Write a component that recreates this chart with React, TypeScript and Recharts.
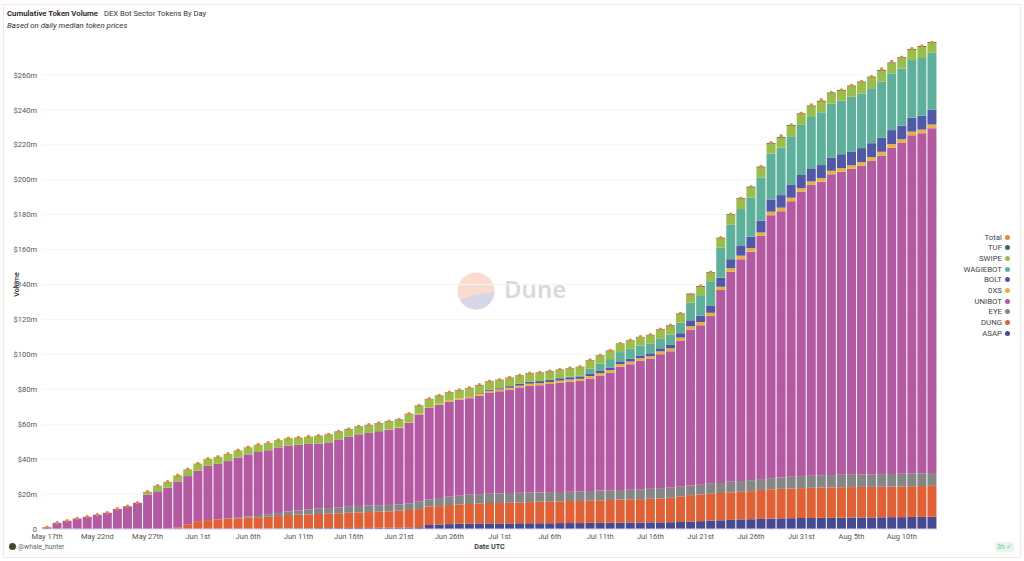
import {
  ComposedChart,
  Bar,
  Line,
  XAxis,
  YAxis,
  CartesianGrid,
} from 'recharts'

const days = [
  'May 17th', 'May 18th', 'May 19th', 'May 20th', 'May 21st', 'May 22nd', 'May 23rd', 'May 24th', 'May 25th', 'May 26th',
  'May 27th', 'May 28th', 'May 29th', 'May 30th', 'May 31st', 'Jun 1st', 'Jun 2nd', 'Jun 3rd', 'Jun 4th', 'Jun 5th',
  'Jun 6th', 'Jun 7th', 'Jun 8th', 'Jun 9th', 'Jun 10th', 'Jun 11th', 'Jun 12th', 'Jun 13th', 'Jun 14th', 'Jun 15th',
  'Jun 16th', 'Jun 17th', 'Jun 18th', 'Jun 19th', 'Jun 20th', 'Jun 21st', 'Jun 22nd', 'Jun 23rd', 'Jun 24th', 'Jun 25th',
  'Jun 26th', 'Jun 27th', 'Jun 28th', 'Jun 29th', 'Jun 30th', 'Jul 1st', 'Jul 2nd', 'Jul 3rd', 'Jul 4th', 'Jul 5th',
  'Jul 6th', 'Jul 7th', 'Jul 8th', 'Jul 9th', 'Jul 10th', 'Jul 11th', 'Jul 12th', 'Jul 13th', 'Jul 14th', 'Jul 15th',
  'Jul 16th', 'Jul 17th', 'Jul 18th', 'Jul 19th', 'Jul 20th', 'Jul 21st', 'Jul 22nd', 'Jul 23rd', 'Jul 24th', 'Jul 25th',
  'Jul 26th', 'Jul 27th', 'Jul 28th', 'Jul 29th', 'Jul 30th', 'Jul 31st', 'Aug 1st', 'Aug 2nd', 'Aug 3rd', 'Aug 4th',
  'Aug 5th', 'Aug 6th', 'Aug 7th', 'Aug 8th', 'Aug 9th', 'Aug 10th', 'Aug 11th', 'Aug 12th', 'Aug 13th',
]

// all values in $m
const asap = [
  0, 0, 0, 0, 0, 0, 0, 0, 0, 0,
  0, 0, 0, 0, 0, 0, 0, 0, 0, 0,
  0, 0, 0.3, 0.3, 0.3, 0.4, 0.4, 0.5, 0.5, 0.5,
  0.6, 0.6, 0.6, 0.7, 0.7, 0.7, 0.8, 1, 2.3, 2.6,
  2.8, 3, 3, 3.2, 3.2, 3.2, 3.2, 3.3, 3.3, 3.3,
  3.3, 3.4, 3.4, 3.4, 3.5, 3.5, 3.6, 3.6, 3.7, 3.7,
  3.8, 3.8, 3.9, 4, 4.3, 4.5, 4.8, 5, 5.2, 5.5,
  5.6, 5.8, 5.9, 6.1, 6.2, 6.3, 6.3, 6.4, 6.4, 6.5,
  6.5, 6.6, 6.6, 6.7, 6.8, 6.8, 6.9, 6.9, 7,
]
const dung = [
  0, 0, 0, 0, 0, 0, 0, 0, 0, 0,
  0, 0, 0, 1, 2.7, 4.5, 5.1, 5.5, 5.9, 6.1,
  6.5, 6.7, 6.7, 7.1, 7.7, 7.8, 8, 8.1, 8.3, 8.5,
  8.7, 8.9, 9.1, 9.2, 9.4, 9.8, 10.1, 10.4, 10.5, 10.5,
  10.9, 11.1, 11.3, 11.3, 11.7, 11.7, 11.8, 11.9, 12.1, 12.3,
  12.3, 12.4, 12.6, 12.6, 12.7, 12.9, 13, 13.2, 13.3, 13.4,
  13.5, 13.7, 14, 14.7, 15.1, 15.3, 15.4, 15.6, 15.8, 15.8,
  16.1, 16.5, 16.8, 16.9, 17, 17.1, 17.3, 17.4, 17.4, 17.4,
  17.5, 17.5, 17.5, 17.5, 17.5, 17.6, 17.6, 17.7, 17.7,
]
const eye = [
  0, 0, 0, 0, 0, 0, 0, 0, 0, 0,
  0, 0, 0, 0, 0, 0, 0, 0, 0.4, 0.7,
  0.8, 1.3, 1.5, 1.7, 2, 2.4, 2.8, 3.1, 3.2, 3.3,
  3.8, 3.7, 3.7, 3.7, 3.7, 3.6, 3.8, 4.4, 4.2, 4.7,
  4.7, 4.9, 5.3, 5.5, 5.3, 5.5, 5.6, 5.6, 5.5, 5.4,
  5.5, 5.4, 5.4, 5.6, 5.6, 5.6, 5.5, 5.5, 5.5, 5.7,
  5.8, 5.9, 5.9, 5.7, 5.5, 5.6, 5.7, 5.8, 6, 6.2,
  6.3, 6.3, 6.4, 6.5, 6.7, 6.9, 6.9, 6.9, 7.1, 7.1,
  7.1, 7.1, 7.2, 7.2, 7.2, 7.2, 7.3, 7.3, 7.4,
]
const unibot = [
  1, 3.5, 4.7, 6, 7, 8.2, 9.3, 11.5, 13, 15,
  19.7, 21.6, 23.7, 26.2, 27.6, 29, 31.1, 31.8, 32.6, 34.1,
  35.4, 36.1, 36.6, 37.6, 37.8, 37.6, 37.5, 37.2, 37.6, 39,
  39.7, 41, 41.6, 42.4, 43.1, 43.7, 46.2, 49.7, 52.3, 53.3,
  54.4, 55, 55.3, 56.3, 57.9, 58.5, 59.2, 60.2, 61.1, 61.3,
  61.9, 62.5, 62.9, 63.1, 64.4, 65.9, 67.5, 70.6, 71.9, 73.5,
  74.3, 76.7, 78, 83.5, 89.4, 91.3, 96, 110.4, 120.3, 127,
  130.8, 139.2, 150.6, 152.5, 157.8, 162.8, 166.5, 168.2, 172.2, 173.6,
  175.1, 176.8, 179.5, 182.5, 186.8, 189.5, 193.6, 194.7, 197.4,
]
const oxs = [
  0, 0, 0, 0, 0, 0, 0, 0, 0, 0,
  0, 0, 0, 0, 0, 0, 0, 0, 0, 0,
  0, 0, 0, 0, 0, 0, 0, 0, 0, 0,
  0, 0, 0, 0, 0.2, 0.3, 0.4, 0.5, 0.5, 0.6,
  0.7, 0.8, 0.9, 1, 1, 1, 1.1, 1.1, 1.2, 1.2,
  1.2, 1.3, 1.3, 1.3, 1.4, 1.4, 1.4, 1.5, 1.5, 1.5,
  1.5, 1.6, 1.6, 1.7, 1.8, 1.8, 1.9, 1.9, 2, 2,
  2, 2, 2, 2, 2, 2, 2, 2, 2, 2,
  2, 2.1, 2.1, 2.1, 2.1, 2.1, 2.1, 2.1, 2.1,
]
const bolt = [
  0, 0, 0, 0, 0, 0, 0, 0, 0, 0,
  0, 0, 0, 0, 0, 0, 0, 0, 0, 0,
  0, 0, 0, 0, 0, 0, 0, 0, 0, 0,
  0, 0, 0, 0, 0, 0, 0, 0, 0, 0,
  0, 0, 0.2, 0.4, 0.6, 0.7, 0.9, 1, 1.1, 1.2,
  1.3, 1.3, 1.3, 1.4, 1.5, 1.5, 1.5, 1.6, 1.6, 1.6,
  1.7, 1.8, 2, 2.5, 3.4, 3.6, 4.2, 5.2, 5.2, 5.9,
  6.5, 6.7, 7, 7.2, 7.3, 7.6, 7.5, 7.5, 7.6, 8,
  8, 8, 8, 8, 8, 7.8, 8, 8, 8.4,
]
const wagiebot = [
  0, 0, 0, 0, 0, 0, 0, 0, 0, 0,
  0, 0, 0, 0, 0, 0, 0, 0, 0, 0,
  0, 0, 0, 0, 0, 0, 0, 0, 0, 0,
  0, 0, 0, 0, 0, 0, 0, 0, 0, 0,
  0, 0, 0, 0, 0, 0, 0, 0, 0, 0,
  0, 0.1, 0.3, 0.6, 2.7, 3.8, 4.8, 5.3, 5.7, 5.7,
  5.7, 5.7, 6, 6.1, 10.1, 11.8, 13.9, 17.2, 19.7, 20.8,
  22.5, 24.8, 26.2, 27.1, 27.9, 28.7, 29.4, 30.2, 30.8, 30.8,
  31.3, 31.3, 31.5, 32.1, 32.5, 32.7, 33, 33, 32.7,
]
const swipe = [
  0, 0, 0, 0, 0, 0, 0, 0, 0, 0,
  1.6, 3.2, 3.3, 3.5, 3.9, 4, 4, 4, 4.1, 4.1,
  4.1, 4.2, 4.2, 4.2, 4.2, 4.2, 4.2, 4.2, 4.2, 4.2,
  4.2, 4.2, 4.3, 4.3, 4.3, 4.3, 4.4, 4.4, 4.4, 4.4,
  4.5, 4.5, 4.5, 4.5, 4.6, 4.6, 4.6, 4.6, 4.6, 4.6,
  4.6, 4.6, 4.6, 4.6, 4.6, 4.6, 4.6, 4.6, 4.6, 4.6,
  4.6, 4.6, 4.7, 4.7, 4.7, 4.7, 4.6, 5.2, 5.5, 5.7,
  5.7, 5.7, 5.7, 5.7, 5.9, 6.1, 6.1, 6.1, 5.9, 5.5,
  5.9, 6.3, 6.1, 6.3, 5.7, 5.9, 5.9, 6.3, 5.7,
]
const tuf = [
  0, 0, 0, 0, 0, 0, 0, 0, 0, 0,
  0, 0, 0, 0, 0, 0, 0, 0, 0, 0,
  0, 0, 0, 0, 0, 0, 0, 0.3, 0.3, 0.3,
  0.3, 0.3, 0.3, 0.3, 0.3, 0.3, 0.3, 0.3, 0.3, 0.3,
  0.3, 0.3, 0.3, 0.3, 0.3, 0.3, 0.3, 0.3, 0.3, 0.3,
  0.3, 0.3, 0.3, 0.3, 0.3, 0.3, 0.3, 0.3, 0.3, 0.3,
  0.3, 0.5, 0.5, 0.5, 0.5, 0.5, 0.5, 0.5, 0.5, 0.5,
  0.5, 0.5, 0.5, 0.5, 0.5, 0.5, 0.5, 0.5, 0.5, 0.5,
  0.5, 0.5, 0.5, 0.5, 0.5, 0.5, 0.5, 0.5, 0.5,
]
const total = [
  1, 3.5, 4.7, 6, 7, 8.2, 9.3, 11.5, 13, 15,
  21.3, 24.8, 27, 30.7, 34.2, 37.5, 40.2, 41.3, 43, 45,
  46.8, 48.3, 49.3, 50.9, 52, 52.4, 52.9, 53.4, 54.1, 55.8,
  57.3, 58.7, 59.6, 60.6, 61.7, 62.7, 66, 70.7, 74.5, 76.4,
  78.3, 79.6, 80.8, 82.5, 84.6, 85.5, 86.7, 88, 89.2, 89.6,
  90.4, 91.3, 92.1, 92.9, 96.7, 99.5, 102.2, 106.2, 108.1, 110,
  111.2, 114.3, 116.6, 123.4, 134.3, 139.1, 147, 166.8, 180.2, 189.4,
  196, 207.5, 221.2, 225, 231.3, 238, 242.8, 245.7, 249.9, 251.4,
  253.9, 256.2, 259, 263.4, 267.6, 270.1, 274.9, 276.5, 278.5,
]

const yTicks = [0, 20, 40, 60, 80, 100, 120, 140, 160, 180, 200, 220, 240, 260]

const stacks = [
  { key: 'ASAP', values: asap, color: '#454a92' },
  { key: 'DUNG', values: dung, color: '#e26033' },
  { key: 'EYE', values: eye, color: '#868686' },
  { key: 'UNIBOT', values: unibot, color: '#b35aa3' },
  { key: '0XS', values: oxs, color: '#ebb03f' },
  { key: 'BOLT', values: bolt, color: '#5058a8' },
  { key: 'WAGIEBOT', values: wagiebot, color: '#5fb09b' },
  { key: 'SWIPE', values: swipe, color: '#9bbe4a' },
  { key: 'TUF', values: tuf, color: '#3f6b5c' },
]
const totalColor = '#e38a3c'

const chartData = days.map((date, i) => {
  const row: Record<string, string | number> = { date, Total: total[i] }
  stacks.forEach((s) => {
    row[s.key] = s.values[i]
  })
  return row
})

const legendItems = [
  { key: 'Total', color: totalColor },
  ...stacks.map((s) => ({ key: s.key, color: s.color })).reverse(),
]

const font = 'Roboto, sans-serif'
const axisTick = { fontSize: 7.5, fill: '#555', fontFamily: font }
const axisTitle = { fontSize: 7.2, fontWeight: 600, fill: '#333', fontFamily: font, textAnchor: 'middle' as const }

function formatMoney(v: number) {
  return v === 0 ? '0' : `$${v}m`
}

export default function App() {
  return (
    <div style={{ position: 'absolute', left: 0, top: 0, width: 1024, height: 561, background: '#fff', overflow: 'hidden', fontFamily: font }}>
      <div style={{ position: 'absolute', left: 3, top: 4, width: 1016, height: 552, border: '1px solid #fbe3e6' }} />

      <div style={{ position: 'absolute', left: 7, top: 8, fontSize: 7.8, lineHeight: '11px', color: '#333', whiteSpace: 'nowrap' }}>
        <b style={{ fontWeight: 600, color: '#222' }}>Cumulative Token Volume</b>
        <span style={{ marginLeft: 6, fontSize: 7.6 }}>DEX Bot Sector Tokens By Day</span>
      </div>
      <div style={{ position: 'absolute', left: 7, top: 20, fontSize: 7.9, lineHeight: '11px', fontStyle: 'italic', color: '#333', whiteSpace: 'nowrap' }}>
        Based on daily median token prices
      </div>

      <svg width={130} height={60} style={{ position: 'absolute', left: 450, top: 261 }}>
        <circle cx={26} cy={30} r={18.5} fill="#f9dccf" />
        <path d="M10 39.3 C 20 34, 33 33, 44.4 31 A 18.5 18.5 0 0 1 10 39.3 Z" fill="#d6d6e8" />
        <text x={54} y={37} fontSize={24} fontWeight={600} fill="#d9d9d9" fontFamily="Noto Sans">Dune</text>
      </svg>

      <ComposedChart
        width={1024}
        height={561}
        data={chartData}
        margin={{ top: 40, right: 87, bottom: 0, left: 0 }}
        barCategoryGap={0.5}
        style={{ position: 'absolute', left: 0, top: 0 }}
      >
        <CartesianGrid horizontal vertical={false} stroke="#f4f4f4" syncWithTicks />
        <XAxis
          dataKey="date"
          interval={4}
          height={32}
          tick={axisTick}
          tickLine={false}
          tickSize={0}
          tickMargin={5}
          stroke="#d5d7ea"
          label={{ value: 'Date UTC', position: 'insideBottom', offset: 12, style: axisTitle }}
        />
        <YAxis
          type="number"
          width={42}
          domain={[0, 280]}
          ticks={yTicks}
          tick={axisTick}
          tickLine={false}
          tickSize={0}
          tickMargin={5}
          axisLine={false}
          tickFormatter={formatMoney}
          label={{ value: 'Volume', angle: -90, position: 'insideLeft', offset: 16, textAnchor: 'middle', style: axisTitle }}
        />
        {stacks.map((s) => (
          <Bar key={s.key} dataKey={s.key} stackId="tokens" fill={s.color} isAnimationActive={false} />
        ))}
        <Line
          dataKey="Total"
          stroke="none"
          dot={{ r: 1.8, fill: totalColor, stroke: 'none' }}
          isAnimationActive={false}
        />
      </ComposedChart>

      <div style={{ position: 'absolute', right: 14, top: 232 }}>
        {legendItems.map((item) => (
          <div key={item.key} style={{ height: 10.67, display: 'flex', alignItems: 'center', justifyContent: 'flex-end', fontSize: 7.8, color: '#444' }}>
            {item.key}
            <span style={{ width: 5, height: 5, borderRadius: '50%', background: item.color, marginLeft: 3 }} />
          </div>
        ))}
      </div>

      <div style={{ position: 'absolute', left: 9, top: 543, width: 7, height: 7, borderRadius: '50%', background: '#3d4a24' }} />
      <div style={{ position: 'absolute', left: 18, top: 542, fontSize: 6.8, lineHeight: '10px', color: '#666' }}>@whale_hunter</div>
      <div style={{ position: 'absolute', left: 995, top: 542, width: 19, height: 10, borderRadius: 3, background: '#e6f6ee', fontSize: 6.8, lineHeight: '10px', color: '#7cc6a2', paddingLeft: 2, boxSizing: 'border-box' }}>
        3h ✓
      </div>
    </div>
  )
}
